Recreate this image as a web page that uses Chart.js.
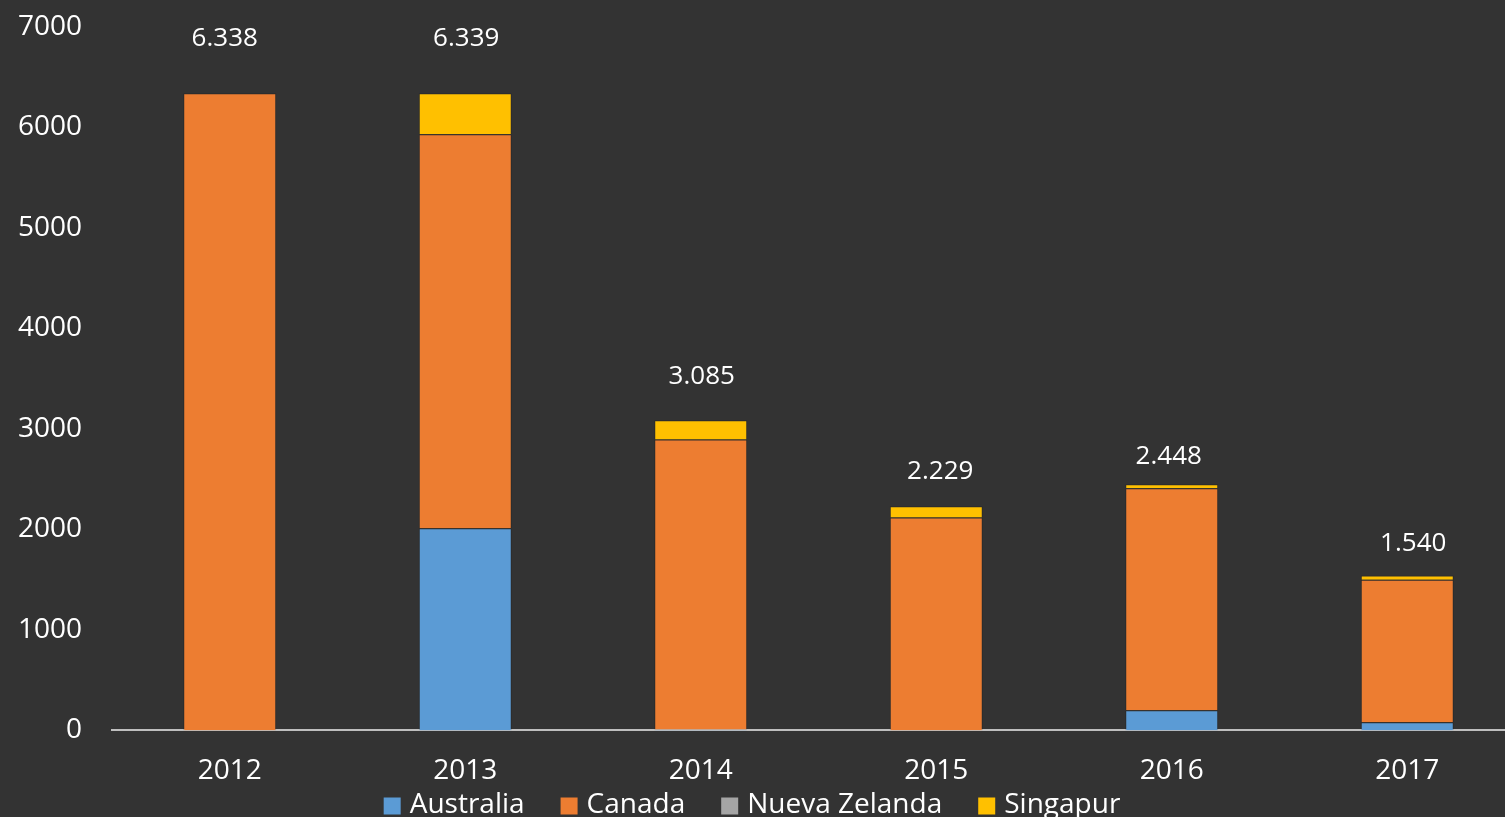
<!DOCTYPE html>
<html>
<head>
<meta charset="utf-8">
<script src="https://cdn.jsdelivr.net/npm/chart.js@4"></script>
<style>
  html, body { margin: 0; padding: 0; background: #333333; overflow: hidden; }
  #wrap { width: 1525px; height: 837px; margin-top: -20px; }
</style>
</head>
<body>
<div id="wrap"><canvas id="barChart"></canvas></div>
<script>
// data
const years = ["2012", "2013", "2014", "2015", "2016", "2017"];
const australia = [0, 2010, 10, 0, 200, 80];
const canada = [6338, 3922, 2885, 2119, 2208, 1420];
const nuevaZelanda = [0, 0, 0, 0, 0, 0];
const singapur = [0, 407, 190, 110, 40, 40];
const yTicks = [0, 1000, 2000, 3000, 4000, 5000, 6000, 7000];

// label placement above each bar (pixels), like the hand-placed labels in the original
const labelLift = [55, 55, 44, 35, 28, 32];
const labelShift = [-5, 1, 1, 4, -3, 6];

const FONT = "'Open Sans', sans-serif";

// totals over the stacks
const totalsPlugin = {
  id: 'totals',
  afterDatasetsDraw(chart) {
    const ctx = chart.ctx;
    const yScale = chart.scales.y;
    const xScale = chart.scales.x;
    ctx.save();
    ctx.fillStyle = '#ffffff';
    ctx.font = "26px " + FONT;
    ctx.textAlign = 'center';
    ctx.textBaseline = 'middle';
    for (var i = 0; i < years.length; i++) {
      const total = australia[i] + canada[i] + nuevaZelanda[i] + singapur[i];
      const txt = total.toString().replace(/\B(?=(\d{3})+(?!\d))/g, '.');
      const x = xScale.getPixelForValue(i) + labelShift[i];
      const y = yScale.getPixelForValue(total) - labelLift[i];
      ctx.fillText(txt, x, y);
    }
    ctx.restore();
  }
};

// legend drawn by hand so it can sit tight under the year labels
const legendPlugin = {
  id: 'tightLegend',
  afterDraw(chart) {
    const ctx = chart.ctx;
    const sets = chart.data.datasets;
    const box = 17, gap = 9, itemGap = 36;
    ctx.save();
    ctx.font = "28px " + FONT;
    ctx.textBaseline = 'middle';
    ctx.textAlign = 'left';
    var total = 0;
    var widths = sets.map(d => ctx.measureText(d.label).width);
    widths.forEach(w => total += box + gap + w);
    total += itemGap * (sets.length - 1);
    var x = 752 - total / 2;
    const y = chart.height - 12;
    sets.forEach(function(d, i) {
      ctx.fillStyle = d.backgroundColor;
      ctx.fillRect(x, y - box / 2 + 1, box, box);
      ctx.fillStyle = '#ffffff';
      ctx.fillText(d.label, x + box + gap, y);
      x += box + gap + widths[i] + itemGap;
    });
    ctx.restore();
  }
};

function ds(label, data, color) {
  return {
    label: label,
    data: data,
    backgroundColor: color,
    borderColor: 'rgba(0,0,0,0.18)',
    borderWidth: 1,
    barPercentage: 0.395,
    categoryPercentage: 1.0
  };
}

var ctx = document.getElementById('barChart').getContext('2d');
var myChart = new Chart(ctx, {
  type: 'bar',
  data: {
    labels: years,
    datasets: [
      ds("Australia", australia, "#5b9bd5"),
      ds("Canada", canada, "#ed7d31"),
      ds("Nueva Zelanda", nuevaZelanda, "#a5a5a5"),
      ds("Singapur", singapur, "#ffc000")
    ]
  },
  options: {
    responsive: true,
    maintainAspectRatio: false,
    animation: false,
    layout: { padding: { top: 0, left: 0, right: 0, bottom: 5 } },
    plugins: {
      tooltip: { enabled: false },
      legend: { display: false }
    },
    scales: {
      x: {
        stacked: true,
        grid: { display: false, drawTicks: false },
        border: { display: true, color: '#bfbfbf', width: 2 },
        ticks: { color: '#ffffff', font: { family: FONT, size: 28 }, padding: 24 }
      },
      y: {
        stacked: true,
        min: 0,
        max: 7000,
        afterFit: function(axis) { axis.width = 112; },
        afterBuildTicks: function(axis) { axis.ticks = yTicks.map(v => ({ value: v })); },
        grid: { display: false, drawTicks: false },
        border: { display: false },
        ticks: {
          color: '#ffffff',
          font: { family: FONT, size: 28 },
          padding: 30,
          callback: function(v) { return String(v); }
        }
      }
    }
  },
  plugins: [totalsPlugin, legendPlugin]
});
</script>
</body>
</html>
